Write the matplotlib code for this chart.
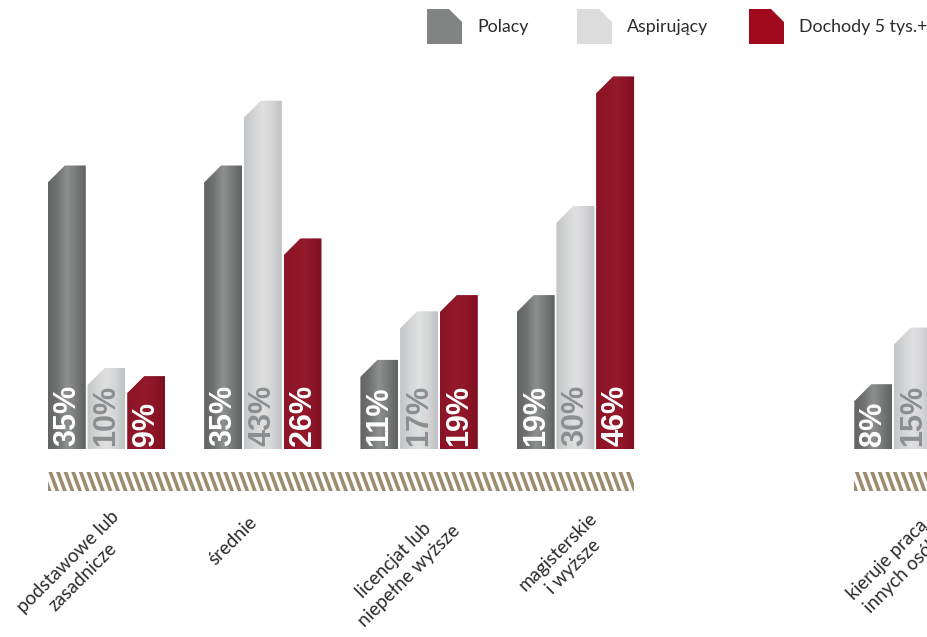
import numpy as np
import matplotlib
matplotlib.use("Agg")
import matplotlib.pyplot as plt
from matplotlib.patches import Polygon
from matplotlib.collections import PolyCollection
from matplotlib.colors import LinearSegmentedColormap

# --- data -----------------------------------------------------------------
categories = [
    "podstawowe lub\nzasadnicze",
    "średnie",
    "licencjat lub\nniepełne wyższe",
    "magisterskie\ni wyższe",
    "kieruje pracą\ninnych osób",
]
series_names = ["Polacy", "Aspirujący", "Dochody 5 tys.+"]
polacy = [35, 35, 11, 19, 8]
aspirujacy = [10, 43, 17, 30, 15]
dochody = [9, 26, 19, 46, np.nan]
values = [polacy, aspirujacy, dochody]

# --- layout ---------------------------------------------------------------
W, H = 928, 637
X0_PX, X_UNIT = 106.5, 156.3      # pixel of group 0 centre, pixels per group step
Y0_PX, Y_UNIT = 449.0, 8.1        # baseline pixel, pixels per percentage point
group_pos = [0, 1, 2, 3, 5.16]
panels = [[0, 1, 2, 3], [4]]
bar_w = 38 / X_UNIT
bar_step = 39.7 / X_UNIT
bevel_x = 17 / X_UNIT
bevel_y = 17 / Y_UNIT

# gradient stops (left edge -> highlight -> right edge)
grad_colors = [
    ["#626363", "#707171", "#8e8f8f", "#787979", "#606161"],
    ["#c4c5c6", "#d3d4d5", "#e0e0e1", "#d4d5d6", "#c0c1c2"],
    ["#8a1426", "#8f1628", "#931a2b", "#8b1426", "#7e1021"],
]
legend_colors = ["#828484", "#dcdcdd", "#a10a1e"]
label_colors = ["white", "#8d8e8f", "white"]
stripe_color = "#9d8b6c"

fig = plt.figure(figsize=(W / 100, H / 100), dpi=100)
ax = fig.add_axes([0, 0, 1, 1])
ax.set_axis_off()
xlim = (-X0_PX / X_UNIT, (W - X0_PX) / X_UNIT)
ylim = ((Y0_PX - H) / Y_UNIT, Y0_PX / Y_UNIT)


def fig_xy(px, py):
    """Pixel position (origin top-left) to figure fraction."""
    return px / W, 1 - py / H


# --- bars with bevelled top-left corner and metallic gradient -------------
for s, vals in enumerate(values):
    offs = (s - 1) * bar_step
    xs = [g + offs for g in group_pos]
    hs = [0 if np.isnan(v) else v for v in vals]
    bars = ax.bar(xs, hs, width=bar_w, color=legend_colors[s], linewidth=0)
    cmap = LinearSegmentedColormap.from_list(f"g{s}", grad_colors[s])
    grad = np.linspace(0, 1, 64)[None, :]
    for b, v in zip(bars, vals):
        b.set_visible(False)
        if np.isnan(v):
            continue
        x0, w, h = b.get_x(), b.get_width(), b.get_height()
        shape = Polygon([(x0, 0), (x0, h - bevel_y), (x0 + bevel_x, h),
                         (x0 + w, h), (x0 + w, 0)], closed=True,
                        facecolor="none", edgecolor="none")
        ax.add_patch(shape)
        im = ax.imshow(grad, cmap=cmap, extent=[x0, x0 + w, 0, h],
                       aspect="auto", interpolation="bicubic", zorder=2)
        im.set_clip_path(shape)
        ax.text(x0 + w / 2, 0.4, f"{v:g}%", rotation=90, ha="center",
                va="bottom", color=label_colors[s], fontsize=22,
                fontweight="bold", family="Liberation Sans", zorder=3)

# --- striped strips under each panel --------------------------------------
y_top, y_bot = (Y0_PX - 472) / Y_UNIT, (Y0_PX - 491) / Y_UNIT
period = 7.6 / X_UNIT
thick = 3.8 / X_UNIT
slant = 7.0 / X_UNIT
for idx in panels:
    left = group_pos[idx[0]] - bar_step - bar_w / 2
    right = group_pos[idx[-1]] + bar_step + bar_w / 2
    polys = []
    x = left - slant
    while x < right + slant:
        polys.append([(x, y_top), (x + thick, y_top),
                      (x + thick + slant, y_bot), (x + slant, y_bot)])
        x += period
    pc = PolyCollection(polys, facecolors=stripe_color, edgecolors="none")
    clip = Polygon([(left, y_top), (right, y_top), (right, y_bot), (left, y_bot)],
                   closed=True, facecolor="none", edgecolor="none")
    ax.add_patch(clip)
    ax.add_collection(pc)
    pc.set_clip_path(clip)

# --- category labels (rotated 45°) ----------------------------------------
label_centres = [(-31, 569), (-30, 541), (-18, 568), (-10, 559), (-18, 567)]
for g, name, (dx, cy) in zip(group_pos, categories, label_centres):
    ax.text(g + dx / X_UNIT, (Y0_PX - cy) / Y_UNIT, name, rotation=45,
            rotation_mode="anchor", ha="center", va="center",
            multialignment="center", linespacing=1.3,
            fontsize=13.5, family="Lato", color="#2b2b2b")

ax.set_xlim(*xlim)
ax.set_ylim(*ylim)

# --- legend ---------------------------------------------------------------
legend_x = [427, 577, 749]
for name, col, lx in zip(series_names, legend_colors, legend_x):
    pts = [fig_xy(lx, 44), fig_xy(lx, 9), fig_xy(lx + 22, 9),
           fig_xy(lx + 35, 22), fig_xy(lx + 35, 44)]
    fig.add_artist(Polygon(pts, closed=True, facecolor=col, edgecolor="none",
                           transform=fig.transFigure))
    tx, ty = fig_xy(lx + 50, 27)
    fig.text(tx, ty, name, ha="left", va="center", fontsize=12.8,
             family="Lato", color="#2b2b2b")

fig.savefig("out.png", dpi=100)
